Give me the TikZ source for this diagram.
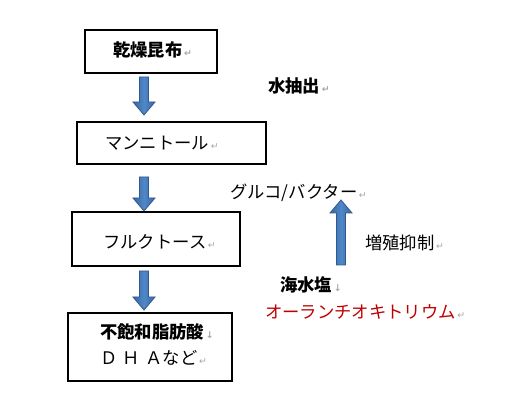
\documentclass[tikz,border=0pt]{standalone}
\usepackage{fontspec}
\newfontfamily\jp{Noto Sans CJK JP}
\newfontfamily\sym{DejaVu Sans}
\usetikzlibrary{calc}
\definecolor{arrowedge}{HTML}{2F5A8F}
\definecolor{arrowdark}{HTML}{3A67A0}
\definecolor{arrowlight}{HTML}{5087C8}
\definecolor{redtext}{HTML}{C00000}
\newcommand{\rmk}{{\sym\fontsize{7pt}{8pt}\selectfont\color{gray!70}\,↵}}
\newcommand{\dmk}{{\sym\fontsize{7pt}{8pt}\selectfont\color{gray!70}\,↓}}
\tikzset{
  box/.style={draw=black, line width=0.8pt, inner sep=0pt},
  lbl/.style={anchor=west, inner sep=0pt, font=\jp\fontsize{13pt}{16pt}\selectfont},
  blbl/.style={lbl, font=\jp\bfseries\fontsize{13pt}{16pt}\selectfont},
  arrowstyle/.style={draw=arrowedge, line width=0.6pt, left color=arrowdark, right color=arrowdark, middle color=arrowlight},
  pics/barrow/.style={code={
    \path[arrowstyle] (-4.5,0) -- (-4.5,{#1-13}) -- (-11,{#1-13}) -- (0,#1) -- (11,{#1-13}) -- (4.5,{#1-13}) -- (4.5,0) -- cycle;}}
}
\begin{document}
\begin{tikzpicture}[x=0.75pt,y=-0.75pt]
\useasboundingbox (0,0) rectangle (522,402);
% boxes
\node[box, minimum width=132*0.75pt, minimum height=43*0.75pt] (b1) at (151,51.5) {};
\node[box, minimum width=189*0.75pt, minimum height=42*0.75pt] (b2) at (171.5,143) {};
\node[box, minimum width=168*0.75pt, minimum height=54*0.75pt] (b3) at (156,239) {};
\node[box, minimum width=164*0.75pt, minimum height=68*0.75pt] (b4) at (150,347) {};
% box texts
\node[blbl] (t1) at (113,50) {乾燥昆布\rmk};
\node[lbl] (t2) at (105,143) {マンニトール\rmk};
\node[lbl] (t3) at (103,242) {フルクトース\rmk};
\node[blbl] (t4) at (100,332) {不飽和脂肪酸\dmk};
\node[lbl] (t5) at (100,358) {Ｄ\hspace{4pt}Ｈ\hspace{4pt}Ａなど\rmk};
% side labels
\node[blbl] (w) at (268,86) {水抽出\rmk};
\node[lbl] (g) at (230,193) {グルコ/バクター\rmk};
\node[lbl] (z) at (365,243) {増殖抑制\rmk};
\node[blbl] (s) at (280,285) {海水塩\dmk};
\node[lbl, text=redtext] (o) at (265,312) {オーランチオキトリウム\rmk};
% block arrows
\pic at (144,77) {barrow=38};
\pic at (144,177) {barrow=34};
\pic at (144,271) {barrow=39};
\pic[rotate=180] at (341,265) {barrow=65};
\end{tikzpicture}
\end{document}
